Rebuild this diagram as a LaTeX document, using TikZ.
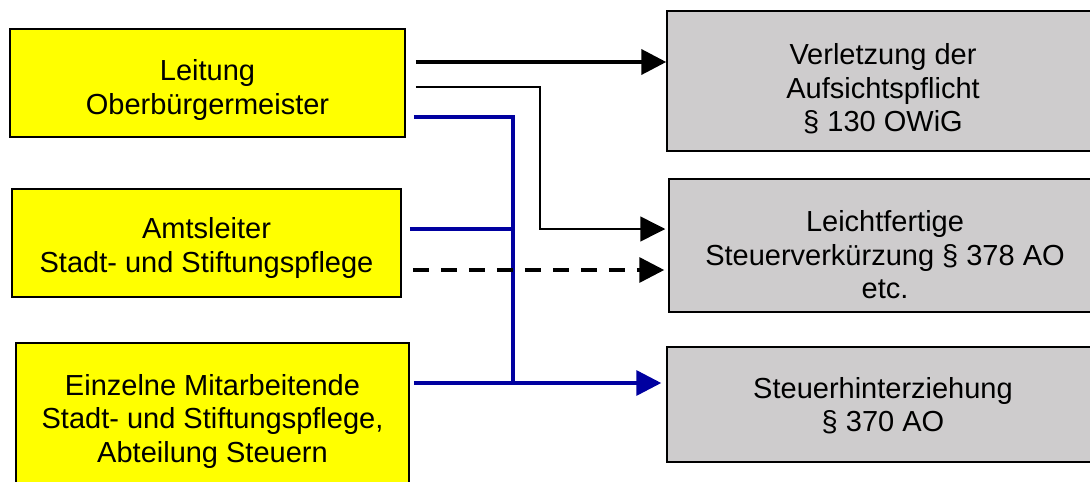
\documentclass[tikz,border=0pt]{standalone}
\usepackage{fontspec}
\setmainfont{Liberation Sans}
\usetikzlibrary{arrows.meta,calc}
\definecolor{boxyellow}{RGB}{255,255,0}
\definecolor{boxgray}{RGB}{206,204,205}
\definecolor{linkblue}{RGB}{0,0,160}
\tikzset{
  lbox/.style={draw=black, line width=1.5pt, fill=boxyellow, rectangle, inner sep=0pt},
  rbox/.style={draw=black, line width=1.5pt, fill=boxgray, rectangle, inner sep=0pt},
  boxtext/.style={align=center, font=\fontsize{29}{33.5}\selectfont, inner sep=0pt},
  bigtip/.style={-{Triangle[length=25pt,width=25pt]}},
  thickarrow/.style={bigtip, line width=4pt, black},
  thinline/.style={bigtip, line width=1.5pt, black},
  dasharrow/.style={bigtip, line width=3.5pt, black, dash pattern=on 16pt off 12pt},
  blueline/.style={line width=3.5pt, linkblue},
  bluearrow/.style={bigtip, line width=3.5pt, linkblue},
}
\begin{document}
\begin{tikzpicture}[x=1pt,y=-1pt]
\useasboundingbox (0,0) rectangle (1090,482);
\clip (0,0) rectangle (1090,482);
\fill[white] (0,0) rectangle (1090,482);

% left boxes
\node[lbox, minimum width=395pt, minimum height=108pt] (l1) at (207.5,83) {};
\node[boxtext] (l1t) at (207.5,90) {Leitung\\Oberbürgermeister};
\node[lbox, minimum width=389pt, minimum height=108pt] (l2) at (206.5,243) {};
\node[boxtext] (l2t) at (206.5,248) {Amtsleiter\\Stadt- und Stiftungspflege};
\node[lbox, minimum width=393pt, minimum height=158pt] (l3) at (212.5,422) {};
\node[boxtext] (l3t) at (212.5,421) {Einzelne Mitarbeitende\\Stadt- und Stiftungspflege,\\Abteilung Steuern};

% right boxes
\node[rbox, minimum width=432pt, minimum height=140pt] (r1) at (883,81) {};
\node[boxtext] (r1t) at (883,89) {Verletzung der\\Aufsichtspflicht\\§ 130 OWiG};
\node[rbox, minimum width=432pt, minimum height=133pt] (r2) at (885,245.5) {};
\node[boxtext] (r2t) at (885,255) {Leichtfertige\\Steuerverkürzung § 378 AO\\etc.};
\node[rbox, minimum width=432pt, minimum height=115pt] (r3) at (883,404.5) {};
\node[boxtext] (r3t) at (883,405.5) {Steuerhinterziehung\\§ 370 AO};

% connectors
\coordinate (a1) at ($(l1.east)+(10,-21)$);
\draw[thickarrow] (a1) -- (a1 -| r1.west);

\coordinate (b1) at ($(l1.east)+(10,4)$);
\coordinate (b2) at (540,229);
\draw[thinline, shorten >=3pt] (b1) -| (b2) -- (b2 -| r2.west);

\coordinate (c1) at ($(l1.east)+(8,34)$);
\coordinate (j) at (513,383);
\draw[blueline] (c1) -| (j);

\coordinate (d1) at ($(l2.east)+(8,-14)$);
\draw[blueline] (d1) -- (d1 -| j);

\coordinate (e1) at ($(l2.east)+(11,27)$);
\draw[dasharrow, shorten >=4pt] (e1) -- (e1 -| r2.west);

\coordinate (f1) at ($(l3.east)+(4,-39)$);
\draw[bluearrow, shorten >=5pt] (f1) -- (f1 -| r3.west);
\end{tikzpicture}
\end{document}
